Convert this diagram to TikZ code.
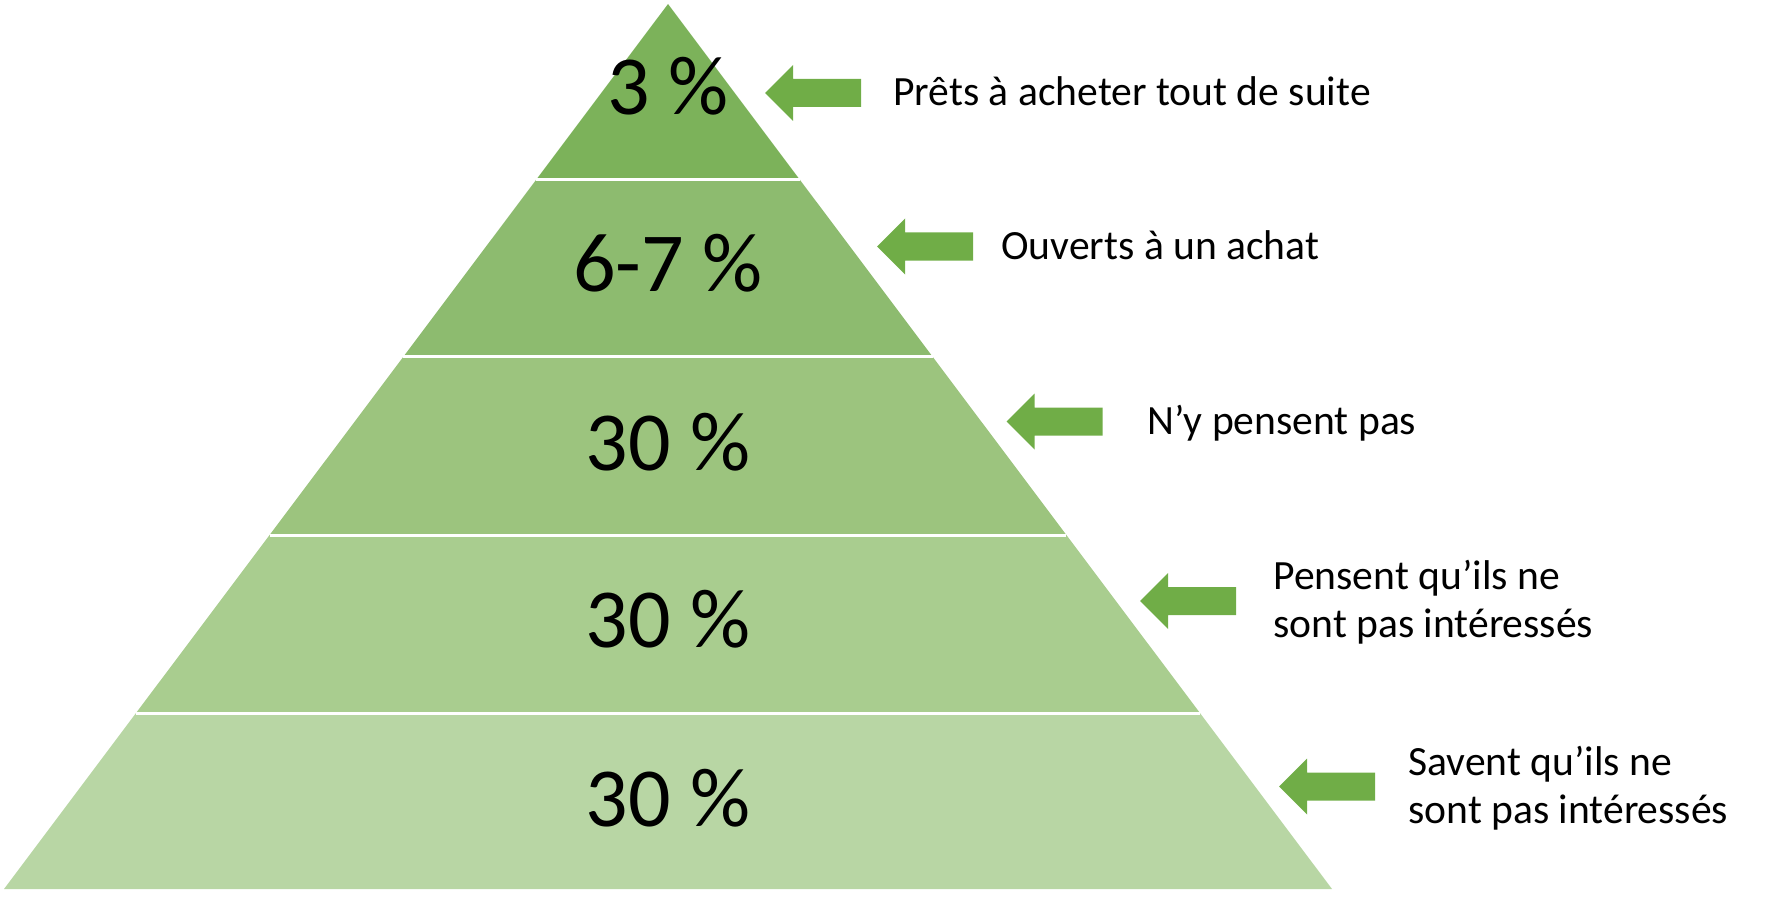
\documentclass[tikz,border=0pt]{standalone}
\usepackage{fontspec}
\setmainfont{Carlito}
\usetikzlibrary{calc}
\definecolor{cA}{RGB}{124,178,90}
\definecolor{cB}{RGB}{141,187,111}
\definecolor{cC}{RGB}{156,196,126}
\definecolor{cD}{RGB}{169,205,143}
\definecolor{cE}{RGB}{184,214,164}
\definecolor{arrowgreen}{RGB}{112,173,71}
\tikzset{
  sepline/.style={draw=white, line width=1.5pt},
  bignum/.style={inner sep=0pt, anchor=base, font=\fontsize{42}{50}\selectfont, text=black},
  lbl/.style={inner sep=0pt, anchor=base west, font=\fontsize{20.8}{24}\selectfont, text=black, align=left},
  leftarrow/.pic={\fill[arrowgreen] (0,0) -- (28,-28) -- (28,-14) -- (96,-14) -- (96,14) -- (28,14) -- (28,28) -- cycle;}
}
\begin{document}
\begin{tikzpicture}[x=0.5pt, y=-0.5pt]
\useasboundingbox (0,0) rectangle (1769,899);
\coordinate (apex) at (668,4);
\coordinate (bl) at (4,889);
\coordinate (br) at (1332,889);
\foreach \i/\f in {1/0.19887,2/0.39887,3/0.6,4/0.80113} {
  \coordinate (L\i) at ($(apex)!\f!(bl)$);
  \coordinate (R\i) at ($(apex)!\f!(br)$);
}
\fill[cA] (apex) -- (R1) -- (L1) -- cycle;
\fill[cB] (L1) -- (R1) -- (R2) -- (L2) -- cycle;
\fill[cC] (L2) -- (R2) -- (R3) -- (L3) -- cycle;
\fill[cD] (L3) -- (R3) -- (R4) -- (L4) -- cycle;
\fill[cE] (L4) -- (R4) -- (br) -- (bl) -- cycle;
\foreach \i in {1,2,3,4} { \draw[sepline] (L\i) -- (R\i); }

\node[bignum] (p1) at (668,114.5) {3 \%};
\node[bignum] (p2) at (668,292) {6-7 \%};
\node[bignum] (p3) at (668,470) {30 \%};
\node[bignum] (p4) at (668,647.5) {30 \%};
\node[bignum] (p5) at (668,826) {30 \%};

\pic at (765,93) {leftarrow};
\pic at (877,246.5) {leftarrow};
\pic at (1006.5,421.5) {leftarrow};
\pic at (1140,601) {leftarrow};
\pic at (1279,786.5) {leftarrow};

\node[lbl] (t1) at (893,106) {Prêts à acheter tout de suite};
\node[lbl] (t2) at (1001,259.5) {Ouverts à un achat};
\node[lbl] (t3) at (1147,434.5) {N’y pensent pas};
\node[lbl] (t4) at (1273,637.5) {Pensent qu’ils ne\\sont pas intéressés};
\node[lbl] (t5) at (1408,823) {Savent qu’ils ne\\sont pas intéressés};
\end{tikzpicture}
\end{document}
